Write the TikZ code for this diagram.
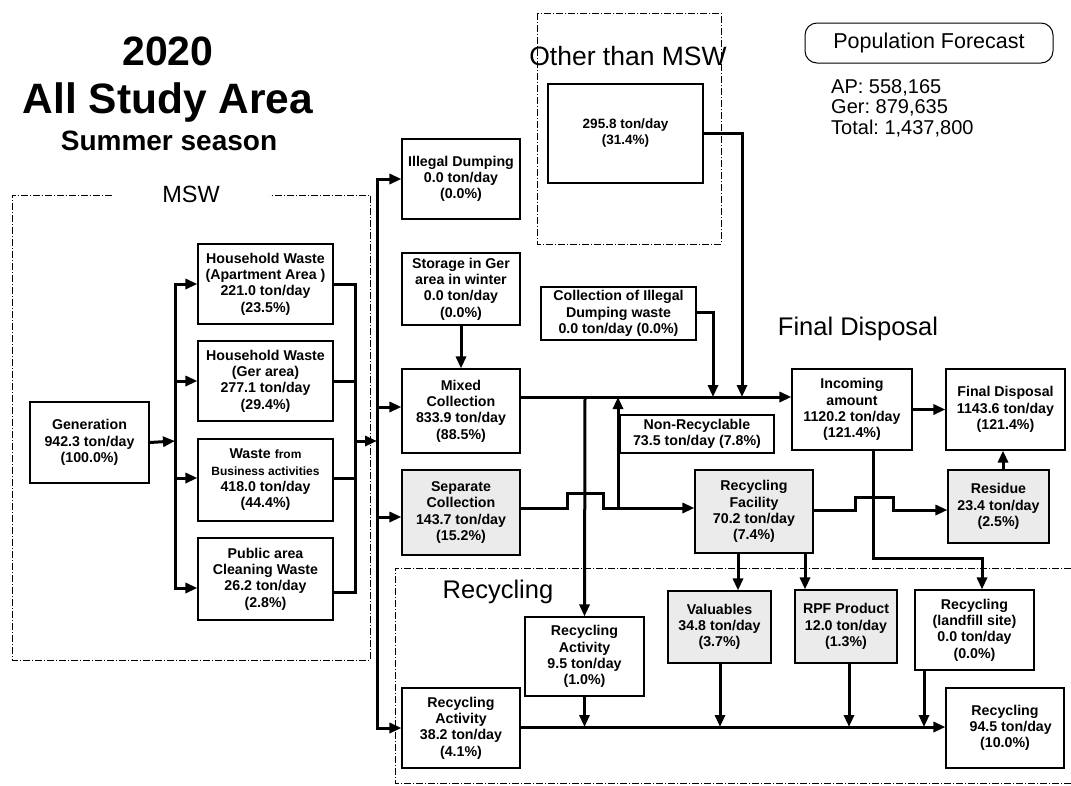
\documentclass[tikz,border=0pt]{standalone}
\usepackage{fontspec}
\setmainfont{Liberation Sans}
\usetikzlibrary{arrows.meta}
\begin{document}
\frenchspacing
\begin{tikzpicture}[x=1pt,y=-1pt,
  box/.style={draw, line width=1.1pt, align=center, inner sep=1pt, font=\bfseries\fontsize{14.2}{16.3}\selectfont},
  gbox/.style={box, fill=black!8},
  flow/.style={line width=3pt, -{Triangle[length=12pt,width=10pt]}},
  thickline/.style={line width=3pt},
  region/.style={line width=0.8pt, dash pattern=on 7pt off 2pt on 1pt off 2pt},
  biglabel/.style={font=\fontsize{25.5}{28}\selectfont, inner sep=0pt, anchor=base}
]
\useasboundingbox (0,0) rectangle (1071,785);

% titles
\node[font=\bfseries\fontsize{41}{41}\selectfont, anchor=base, inner sep=0pt] (title1) at (168,65) {2020};
\node[font=\bfseries\fontsize{42.5}{42}\selectfont, anchor=base, inner sep=0pt] (title2) at (168,113) {All Study Area};
\node[font=\bfseries\fontsize{28}{28}\selectfont, anchor=base, inner sep=0pt] (title3) at (169,150) {Summer season};

% population forecast
\node[draw, line width=1pt, rounded corners=12pt, minimum width=248pt, minimum height=40pt, font=\fontsize{21.5}{24}\selectfont] (pop) at (929,43) {Population Forecast};
\node[font=\fontsize{20}{22}\selectfont, anchor=base west, inner sep=0pt] (pop1) at (831,93) {AP: 558,165};
\node[font=\fontsize{20}{22}\selectfont, anchor=base west, inner sep=0pt] (pop2) at (831,113.5) {Ger: 879,635};
\node[font=\fontsize{20}{22}\selectfont, anchor=base west, inner sep=0pt] (pop3) at (831,134.5) {Total: 1,437,800};

% regions
\draw[region] (112,195) -- (12,195) -- (12,660) -- (370,660) -- (370,195) -- (270,195);
\node[font=\fontsize{23.5}{26}\selectfont, anchor=base, inner sep=0pt] (msw) at (191,202) {MSW};
\draw[region] (537,13) rectangle (721,244);
\node[font=\fontsize{26.5}{28}\selectfont, inner sep=0pt, anchor=base] (othl) at (628,65) {Other than MSW};
\node[biglabel] (fdl) at (858,335) {Final Disposal};
\draw[region] (1071,568) -- (395,568) -- (395,783) -- (1071,783);
\node[biglabel] (recl) at (498,598) {Recycling};

% boxes
\node[box, minimum width=119pt, minimum height=81pt] (gen) at (89.5,442.5) {Generation\\942.3 ton/day\\(100.0\%)};
\node[box, minimum width=135pt, minimum height=80pt] (hwa) at (265.5,284) {Household Waste\\(Apartment Area )\\221.0 ton/day\\(23.5\%)};
\node[box, minimum width=135pt, minimum height=80pt] (hwg) at (265.5,381) {Household Waste\\(Ger area)\\277.1 ton/day\\(29.4\%)};
\node[box, minimum width=135pt, minimum height=82pt] (wfb) at (265.5,480) {Waste {\fontsize{12}{16.3}\selectfont from}\\{\fontsize{12}{16.3}\selectfont Business activities}\\418.0 ton/day\\(44.4\%)};
\node[box, minimum width=135pt, minimum height=82pt] (pac) at (265.5,579) {Public area\\Cleaning Waste\\26.2 ton/day\\(2.8\%)};

\node[box, minimum width=118pt, minimum height=80pt] (ild) at (461,179) {Illegal Dumping\\0.0 ton/day\\(0.0\%)};
\node[box, minimum width=118pt, minimum height=72pt] (sgw) at (461,289) {Storage in Ger\\area in winter\\0.0 ton/day\\(0.0\%)};
\node[box, minimum width=118pt, minimum height=84pt] (mix) at (461,411) {Mixed\\Collection\\833.9 ton/day\\(88.5\%)};
\node[gbox, minimum width=118pt, minimum height=85pt] (sep) at (461,512.5) {Separate\\Collection\\143.7 ton/day\\(15.2\%)};
\node[box, minimum width=118pt, minimum height=80pt] (ra38) at (461,728) {Recycling\\Activity\\38.2 ton/day\\(4.1\%)};

\node[box, minimum width=155pt, minimum height=99pt, font=\bfseries\fontsize{13.5}{16}\selectfont] (oth) at (625.5,133.5) {295.8 ton/day\\(31.4\%)};
\node[box, minimum width=155pt, minimum height=53pt] (cid) at (618.5,313.5) {Collection of Illegal\\Dumping waste\\0.0 ton/day (0.0\%)};
\node[box, minimum width=154pt, minimum height=38pt] (nonr) at (697,434) {Non-Recyclable\\73.5 ton/day (7.8\%)};
\node[gbox, minimum width=118pt, minimum height=83pt] (rf) at (754,511.5) {Recycling\\Facility\\70.2 ton/day\\(7.4\%)};

\node[box, minimum width=120pt, minimum height=81pt] (inc) at (852,409.5) {Incoming\\amount\\1120.2 ton/day\\(121.4\%)};
\node[box, minimum width=119pt, minimum height=81pt] (fd) at (1005.5,409.5) {Final Disposal\\1143.6 ton/day\\(121.4\%)};
\node[gbox, minimum width=101pt, minimum height=73pt] (res) at (998.5,506.5) {Residue\\23.4 ton/day\\(2.5\%)};

\node[box, minimum width=119pt, minimum height=79pt] (ra95) at (584.5,656.5) {Recycling\\Activity\\9.5 ton/day\\(1.0\%)};
\node[gbox, minimum width=103pt, minimum height=72pt] (val) at (719.5,627) {Valuables\\34.8 ton/day\\(3.7\%)};
\node[gbox, minimum width=102pt, minimum height=73pt] (rpf) at (846,626.5) {RPF Product\\12.0 ton/day\\(1.3\%)};
\node[box, minimum width=119pt, minimum height=80pt] (rls) at (974.5,630) {Recycling\\(landfill site)\\0.0 ton/day\\(0.0\%)};
\node[box, minimum width=118pt, minimum height=80pt] (rec) at (1005,728) {Recycling\\\hspace*{0.8em}94.5 ton/day\\(10.0\%)};

% junction coordinates
\coordinate (b1) at (175,441);
\coordinate (b2) at (355,441);
\coordinate (b3) at (377,441);
\coordinate (r4) at (355,592);
\coordinate (jm) at (585,397);
\coordinate (jo) at (742,397);
\coordinate (jc) at (713,397);
\coordinate (s1) at (567,508);
\coordinate (s2) at (603,493);
\coordinate (jn) at (618,508);
\coordinate (f1) at (855,510);
\coordinate (f2) at (893,497);
\coordinate (i1) at (873,558);
\coordinate (i2) at (982,558);
\coordinate (xv) at (738,0);
\coordinate (xr) at (805,0);
\coordinate (xv2) at (720,0);
\coordinate (xr2) at (849,0);
\coordinate (xl2) at (924,0);
\coordinate (bl) at (0,727);

% MSW connectors
\draw[flow] (gen.east) -- (b1);
\draw[flow] (b1) |- (hwa.west);
\draw[flow] (b1) |- (hwg.west);
\draw[flow] (b1) |- ([yshift=2pt]wfb.west);
\draw[flow] (b1) |- ([yshift=-9pt]pac.west);
\draw[thickline] (hwa.east) -| (b2);
\draw[thickline] (pac.east |- r4) -| (b2);
\draw[thickline] (hwg.east) -- (hwg.east -| b2);
\draw[thickline] ([yshift=2pt]wfb.east) -- ([yshift=2pt]wfb.east -| b2);
\draw[flow] (b2) -- (b3);
\draw[flow] (b3) |- (ild.west);
\draw[flow] (b3) |- (ra38.west);
\draw[flow] ([yshift=4pt]mix.west -| b3) -- ([yshift=4pt]mix.west);
\draw[flow] ([yshift=-4.5pt]sep.west -| b3) -- ([yshift=-4.5pt]sep.west);

% collection / final disposal
\draw[flow] (sgw.south) -- (mix.north);
\draw[flow] (mix.east |- jm) -- (inc.west |- jm);
\draw[flow] (oth.east) -| (jo);
\draw[flow] ([yshift=1.5pt]cid.east) -| (jc);
\draw[flow] (jm) -- (ra95.north);
\draw[flow] (sep.east |- s1) -- (s1) |- (s2) |- (rf.west |- s1);
\draw[flow] (jn) -- (jn |- jm);
\draw[flow] (rf.east |- f1) -- (f1) |- (f2) |- (res.west |- f1);
\draw[flow] (inc.south -| i1) -- (i1) -- (i2) -- (rls.north -| i2);
\draw[flow] (inc.east) -- (fd.west);
\draw[flow] ([xshift=4.5pt]res.north) -- ([xshift=4.5pt]res.north |- fd.south);

% recycling
\draw[flow] (rf.south -| xv) -- (val.north -| xv);
\draw[flow] (rf.south -| xr) -- (rpf.north -| xr);
\draw[flow] (ra38.east |- bl) -- (rec.west |- bl);
\draw[flow] (ra95.south) -- (ra95.south |- bl);
\draw[flow] (val.south -| xv2) -- (xv2 |- bl);
\draw[flow] (rpf.south -| xr2) -- (xr2 |- bl);
\draw[flow] (rls.south -| xl2) -- (xl2 |- bl);
\end{tikzpicture}
\end{document}
